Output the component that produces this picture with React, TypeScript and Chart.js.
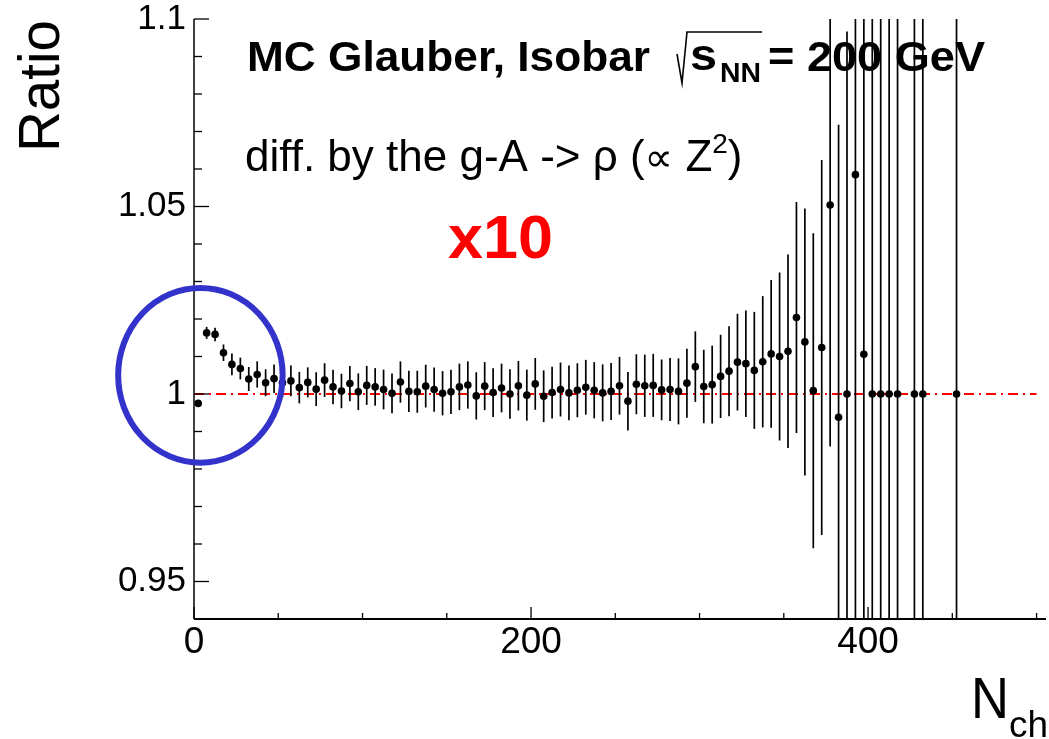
import React, { useEffect, useRef } from 'react';
import { Chart, registerables } from 'chart.js';

Chart.register(...registerables);

// Bin centres in N_ch (5-wide bins), ratio values and their statistical errors
const nch = [
  2.5, 7.5, 12.5, 17.5, 22.5, 27.5, 32.5, 37.5, 42.5, 47.5,
  52.5, 57.5, 62.5, 67.5, 72.5, 77.5, 82.5, 87.5, 92.5, 97.5,
  102.5, 107.5, 112.5, 117.5, 122.5, 127.5, 132.5, 137.5, 142.5, 147.5,
  152.5, 157.5, 162.5, 167.5, 172.5, 177.5, 182.5, 187.5, 192.5, 197.5,
  202.5, 207.5, 212.5, 217.5, 222.5, 227.5, 232.5, 237.5, 242.5, 247.5,
  252.5, 257.5, 262.5, 267.5, 272.5, 277.5, 282.5, 287.5, 292.5, 297.5,
  302.5, 307.5, 312.5, 317.5, 322.5, 327.5, 332.5, 337.5, 342.5, 347.5,
  352.5, 357.5, 362.5, 367.5, 372.5, 377.5, 382.5, 387.5, 392.5, 397.5,
  402.5, 407.5, 412.5, 417.5, 427.5, 432.5, 452.5,
];

const ratio = [
  0.9975, 1.0163, 1.0159, 1.011, 1.0079, 1.0068, 1.004, 1.0052, 1.003, 1.0041,
  1.003, 1.0035, 1.0017, 1.0031, 1.0013, 1.0037, 1.0019, 1.0008, 1.0028, 1.0006,
  1.0023, 1.0019, 1.0012, 1.0002, 1.0032, 1.0007, 1.0006, 1.0021, 1.0012, 1.0002,
  1.0006, 1.0019, 1.0024, 0.9995, 1.0021, 1.0004, 1.0016, 1.0, 1.0022, 0.9997,
  1.0027, 0.9994, 1.0004, 1.0012, 1.0003, 1.001, 1.0018, 1.001, 1.0003, 1.0007,
  1.0022, 0.9981, 1.0026, 1.0022, 1.0023, 1.0011, 1.0012, 1.0007, 1.0029, 1.0073,
  1.002, 1.0025, 1.0047, 1.0061, 1.0085, 1.0081, 1.0063, 1.0086, 1.0107, 1.01,
  1.0114, 1.0204, 1.0139, 1.0009, 1.0124, 1.0504, 0.9938, 1.0, 1.0585, 1.0106,
  1.0, 1.0, 1.0, 1.0, 1.0, 1.0, 1.0,
];

const ratioErr = [
  0.0003, 0.0016, 0.0018, 0.0022, 0.0029, 0.0029, 0.0032, 0.0035, 0.0036, 0.0038,
  0.0039, 0.0041, 0.0042, 0.004, 0.0045, 0.0045, 0.0046, 0.0046, 0.0047, 0.0049,
  0.0052, 0.005, 0.0053, 0.0053, 0.0055, 0.0055, 0.0056, 0.0057, 0.0059, 0.0059,
  0.0059, 0.0062, 0.0063, 0.0063, 0.0064, 0.0065, 0.0065, 0.0066, 0.0066, 0.0068,
  0.0069, 0.0069, 0.0069, 0.0072, 0.0073, 0.0072, 0.0073, 0.0075, 0.0076, 0.0076,
  0.0077, 0.0078, 0.008, 0.0083, 0.0084, 0.0081, 0.0084, 0.0088, 0.0092, 0.0094,
  0.0098, 0.0104, 0.0111, 0.012, 0.0129, 0.0142, 0.0156, 0.0175, 0.0197, 0.0224,
  0.0258, 0.0308, 0.0356, 0.042, 0.05, 0.0644, 0.078, 0.0967, 0.5, 0.5,
  1.0, 1.0, 1.0, 1.0, 1.0, 1.0, 1.0,
];

// Unity reference line
const refLineX = [0, 500];
const refLineY = [1, 1];

// Axis ranges
const xRange = [0, 505];
const yRange = [0.94, 1.1];

const FONT = '"Liberation Sans", Arial, Helvetica, sans-serif';

// Draws text squeezed or stretched horizontally to a given width
function fitText(ctx: CanvasRenderingContext2D, text: string, x: number, y: number, width: number) {
  const w = ctx.measureText(text).width;
  ctx.save();
  ctx.translate(x, y);
  ctx.scale(width / w, 1);
  ctx.fillText(text, 0, 0);
  ctx.restore();
}

export default function App() {
  const canvasRef = useRef<HTMLCanvasElement>(null);

  useEffect(() => {
    const canvas = canvasRef.current;
    if (!canvas) return;

    const errorBars = {
      id: 'errorBars',
      afterDatasetsDraw(chart: any) {
        const { ctx, chartArea: a, scales } = chart;
        const xs = scales.x;
        const ys = scales.y;
        ctx.save();
        ctx.beginPath();
        ctx.rect(a.left, a.top, a.right - a.left, a.bottom - a.top);
        ctx.clip();
        ctx.strokeStyle = '#000';
        ctx.lineWidth = 1.7;
        nch.forEach((v, i) => {
          const px = xs.getPixelForValue(v);
          const lo = ys.getPixelForValue(Math.max(ratio[i] - ratioErr[i], yRange[0] - 0.01));
          const hi = ys.getPixelForValue(Math.min(ratio[i] + ratioErr[i], yRange[1] + 0.01));
          ctx.beginPath();
          ctx.moveTo(px, lo);
          ctx.lineTo(px, hi);
          ctx.stroke();
        });
        ctx.restore();
      },
    };

    const frameAndLabels = {
      id: 'frameAndLabels',
      afterDraw(chart: any) {
        const { ctx, chartArea: a, scales } = chart;
        const xs = scales.x;
        const ys = scales.y;
        ctx.save();
        ctx.strokeStyle = '#000';

        // axis lines
        ctx.lineWidth = 1.5;
        ctx.beginPath();
        ctx.moveTo(a.left, a.top);
        ctx.lineTo(a.left, a.bottom);
        ctx.stroke();
        ctx.lineWidth = 2;
        ctx.beginPath();
        ctx.moveTo(a.left, a.bottom);
        ctx.lineTo(a.right + 1, a.bottom);
        ctx.stroke();

        // inward tick marks
        ctx.lineWidth = 1.3;
        ys.ticks.forEach((t: any) => {
          const py = ys.getPixelForValue(t.value);
          const major = Math.round(t.value * 100) % 5 === 0;
          ctx.beginPath();
          ctx.moveTo(a.left, py);
          ctx.lineTo(a.left + (major ? 15 : 8), py);
          ctx.stroke();
        });
        xs.ticks.forEach((t: any) => {
          const px = xs.getPixelForValue(t.value);
          const major = Math.round(t.value) % 200 === 0;
          ctx.beginPath();
          ctx.moveTo(px, a.bottom);
          ctx.lineTo(px, a.bottom - (major ? 12 : 6));
          ctx.stroke();
        });

        // highlight ellipse around the low-multiplicity bins
        const cx = xs.getPixelForValue(3.8);
        const cy = ys.getPixelForValue(1.005);
        const rx = xs.getPixelForValue(3.8 + 48.8) - cx;
        const ry = cy - ys.getPixelForValue(1.005 + 0.0233);
        ctx.strokeStyle = '#3333cc';
        ctx.lineWidth = 6;
        ctx.beginPath();
        ctx.ellipse(cx, cy, rx, ry, 0, 0, Math.PI * 2);
        ctx.stroke();

        // axis titles
        ctx.fillStyle = '#000';
        ctx.textAlign = 'left';
        ctx.textBaseline = 'alphabetic';
        ctx.save();
        ctx.translate(59, 152);
        ctx.rotate(-Math.PI / 2);
        ctx.font = `57px ${FONT}`;
        fitText(ctx, 'Ratio', 0, 0, 132);
        ctx.restore();

        ctx.font = `57px ${FONT}`;
        fitText(ctx, 'N', 971, 718, 38);
        ctx.font = `36px ${FONT}`;
        fitText(ctx, 'ch', 1009, 737, 39);

        // header line
        ctx.font = `bold 43px ${FONT}`;
        fitText(ctx, 'MC Glauber, Isobar', 247, 71, 403);
        ctx.lineWidth = 1.6;
        ctx.strokeStyle = '#000';
        ctx.beginPath();
        ctx.moveTo(677, 54);
        ctx.lineTo(682, 83);
        ctx.lineTo(687, 32);
        ctx.lineTo(762, 32);
        ctx.stroke();
        ctx.font = `bold 44px ${FONT}`;
        fitText(ctx, 's', 690, 70, 27);
        ctx.font = `bold 28px ${FONT}`;
        fitText(ctx, 'NN', 720, 82, 41);
        ctx.font = `bold 43px ${FONT}`;
        fitText(ctx, '= 200 GeV', 768, 71, 217);

        // second line
        let x0 = 245;
        const base = 171;
        const run = (t: string, font: string, dy = 0) => {
          ctx.font = font;
          ctx.fillText(t, x0, base + dy);
          x0 += ctx.measureText(t).width;
        };
        run('diff. by the g-A -> \u03C1 (', `44px ${FONT}`);
        run('\u221D', `40px ${FONT}, "DejaVu Sans"`);
        run(' Z', `44px ${FONT}`);
        run('2', `28px ${FONT}`, -18);
        run(')', `44px ${FONT}`);

        // scale factor label
        ctx.fillStyle = '#ff0000';
        ctx.font = `bold 62px ${FONT}`;
        fitText(ctx, 'x10', 448, 258, 105);

        ctx.restore();
      },
    };

    const chart = new Chart(canvas, {
      type: 'scatter',
      data: {
        datasets: [
          {
            type: 'line',
            data: refLineX.map((x, i) => ({ x, y: refLineY[i] })),
            borderColor: '#ff0000',
            borderWidth: 1.8,
            borderDash: [10, 5, 2, 5],
            pointRadius: 0,
            fill: false,
            order: 2,
          } as any,
          {
            data: nch.map((x, i) => ({ x, y: ratio[i] })),
            pointRadius: 3.8,
            pointBackgroundColor: '#000',
            pointBorderWidth: 0,
            borderColor: '#000',
            order: 1,
          },
        ],
      },
      options: {
        responsive: false,
        animation: false,
        layout: { padding: { left: 0, top: 19, right: 1, bottom: 0 } },
        plugins: {
          legend: { display: false },
          tooltip: { enabled: false },
        },
        scales: {
          x: {
            type: 'linear',
            min: xRange[0],
            max: xRange[1],
            grid: { display: false, drawTicks: false },
            border: { display: false },
            ticks: {
              stepSize: 50,
              autoSkip: false,
              includeBounds: false,
              maxRotation: 0,
              padding: 2,
              color: '#000',
              font: { family: FONT, size: 37 },
              callback: (v: any) => (Math.round(Number(v)) % 200 === 0 ? String(v) : ''),
            },
            afterFit: (s: any) => {
              s.height = 120;
              s.paddingLeft = 0;
              s.paddingRight = 0;
            },
          },
          y: {
            type: 'linear',
            min: yRange[0],
            max: yRange[1],
            grid: { display: false, drawTicks: false },
            border: { display: false },
            ticks: {
              stepSize: 0.01,
              autoSkip: false,
              includeBounds: false,
              padding: 8,
              color: '#000',
              font: { family: FONT, size: 35 },
              callback: (v: any) => {
                const k = Math.round(Number(v) * 100);
                return k % 5 === 0 ? String(k / 100) : '';
              },
            },
            afterFit: (s: any) => {
              s.width = 194;
              s.paddingTop = 0;
              s.paddingBottom = 0;
            },
          },
        },
      },
      plugins: [errorBars, frameAndLabels],
    });

    return () => chart.destroy();
  }, []);

  return (
    <div style={{ position: 'absolute', left: 0, top: 0, width: 1049, height: 739, background: '#fff' }}>
      <canvas ref={canvasRef} width={1049} height={739} style={{ display: 'block', width: 1049, height: 739 }} />
    </div>
  );
}
